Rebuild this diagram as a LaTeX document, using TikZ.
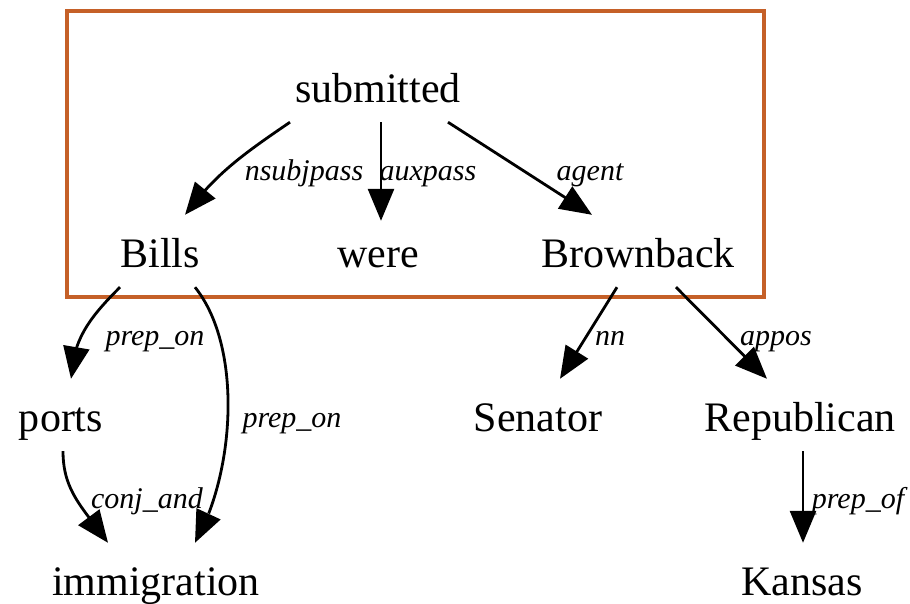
\documentclass[tikz,border=0pt]{standalone}
\usepackage{fontspec}
\setmainfont{Liberation Serif}
\usetikzlibrary{arrows.meta,bending}
\definecolor{boxorange}{RGB}{197,96,40}
\tikzset{
  word/.style={font=\fontsize{42}{50}\selectfont, text height=36pt, text depth=4pt,
    inner sep=0pt, minimum height=72pt, anchor=base},
  rel/.style={font=\fontsize{30}{36}\selectfont\itshape, inner sep=0pt, anchor=base},
  dep/.style={line width=2.8pt, -{Triangle[length=32pt,width=26pt,flex]}},
}
\begin{document}
\begin{tikzpicture}[x=1pt,y=-1pt]
\useasboundingbox (0,0) rectangle (910,603);
\draw[boxorange, line width=3.2pt] (67,11) rectangle (764,297);

\node[word] (submitted) at (378,102) {submitted};
\node[word] (Bills) at (160,267) {Bills};
\node[word] (were) at (378,267) {were};
\node[word] (Brownback) at (638,267) {Brownback};
\node[word] (ports) at (61,431) {ports};
\node[word] (Senator) at (538,431) {Senator};
\node[word] (Republican) at (800,431) {Republican};
\node[word] (immigration) at (156,595) {immigration};
\node[word] (Kansas) at (802,595) {Kansas};

\draw[dep] ([xshift=-88pt]submitted.south) .. controls +(-50,34) and +(30,-40) .. ([xshift=25pt]Bills.north);
\draw[dep] ([xshift=3pt]submitted.south) -- ([xshift=3pt,yshift=-6pt]were.north);
\draw[dep] ([xshift=70pt]submitted.south) -- ([xshift=-46pt]Brownback.north);
\draw[dep] ([xshift=-40pt]Bills.south) .. controls +(-30,30) and +(2,-40) .. ([xshift=10pt]ports.north);
\draw[dep] ([xshift=35pt]Bills.south) .. controls +(48,60) and +(40,-70) .. ([xshift=39pt]immigration.north);
\draw[dep] ([xshift=2pt]ports.south) .. controls +(0,40) and +(-25,-35) .. ([xshift=-48pt]immigration.north);
\draw[dep] ([xshift=-21pt]Brownback.south) -- ([xshift=22pt]Senator.north);
\draw[dep] ([xshift=38pt]Brownback.south) -- ([xshift=-33pt]Republican.north);
\draw[dep] ([xshift=3pt]Republican.south) -- ([xshift=1pt]Kansas.north);

\node[rel] (l1) at (304,180) {nsubjpass};
\node[rel] (l2) at (428,180) {auxpass};
\node[rel] (l3) at (590,180) {agent};
\node[rel] (l4) at (155,345) {prep\_on};
\node[rel] (l5) at (292,427) {prep\_on};
\node[rel] (l6) at (147,508) {conj\_and};
\node[rel] (l7) at (610,345) {nn};
\node[rel] (l8) at (776,345) {appos};
\node[rel] (l9) at (858,508) {prep\_of};
\end{tikzpicture}
\end{document}
